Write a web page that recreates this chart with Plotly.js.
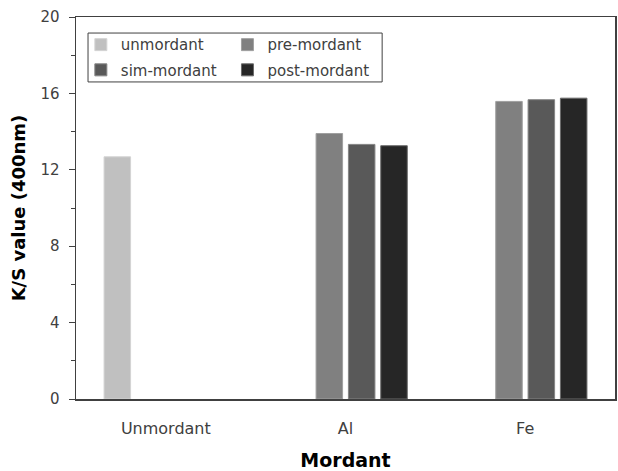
<!DOCTYPE html>
<html>
<head>
<meta charset="utf-8">
<script src="https://cdn.plot.ly/plotly-3.0.1.min.js"></script>
<style>html,body{margin:0;padding:0;background:#fff}#chart{width:618px;height:471px}</style>
</head>
<body>
<div id="chart"></div>
<script>
var categories = ['Unmordant', 'Al', 'Fe'];
var seriesNames = ['unmordant', 'pre-mordant', 'sim-mordant', 'post-mordant'];
var unmordantValues = [12.68, null, null];
var preMordantValues = [null, 13.9, 15.58];
var simMordantValues = [null, 13.33, 15.67];
var postMordantValues = [null, 13.26, 15.75];
var yTicks = [0, 4, 8, 12, 16, 20];

var colors = ['#c0c0c0', '#808080', '#595959', '#262626'];
var edges = ['#d4d4d4', '#a0a0a0', '#858585', '#6a6a6a'];
var allValues = [unmordantValues, preMordantValues, simMordantValues, postMordantValues];
var legendIds = ['legend', 'legend2', 'legend3', 'legend4'];

var traces = allValues.map(function (vals, i) {
  return {
    type: 'bar',
    name: seriesNames[i],
    x: categories,
    y: vals,
    marker: {color: colors[i], line: {color: edges[i], width: 1}},
    legend: legendIds[i],
    showlegend: true,
    hoverinfo: 'skip'
  };
});

var legendFont = {family: 'DejaVu Sans', size: 15, color: '#404040'};
function leg(x, y) {
  return {visible: true, x: x, y: y, xanchor: 'left', yanchor: 'middle', font: legendFont,
          bgcolor: 'rgba(0,0,0,0)', borderwidth: 0, itemwidth: 30};
}

var layout = {
  width: 618, height: 471,
  margin: {l: 76, r: 3, t: 17, b: 72},
  paper_bgcolor: '#fff', plot_bgcolor: '#fff',
  showlegend: true,
  barmode: 'group', bargap: 0.28, bargroupgap: 0.18,
  font: {family: 'DejaVu Sans', color: '#404040'},
  legend: leg(0.009, 0.927),
  legend2: leg(0.281, 0.927),
  legend3: leg(0.009, 0.861),
  legend4: leg(0.281, 0.861),
  xaxis: {
    type: 'category',
    showline: true, mirror: true, linecolor: '#404040', linewidth: 1.5,
    ticks: 'outside', ticklen: 14, tickcolor: 'rgba(0,0,0,0)',
    tickfont: {family: 'DejaVu Sans', size: 16, color: '#404040'},
    title: {text: 'Mordant', font: {family: 'DejaVu Sans', size: 19, color: '#000', weight: 'bold'}, standoff: 18},
    showgrid: false, zeroline: false
  },
  yaxis: {
    range: [0, 20], tickvals: yTicks, ticktext: yTicks.map(String),
    showline: true, mirror: true, linecolor: '#404040', linewidth: 1.5,
    ticks: 'outside', ticklen: 6, tickcolor: '#404040', tickwidth: 1,
    ticklabelstandoff: 6,
    minor: {dtick: 2, ticks: 'outside', ticklen: 4, tickcolor: '#404040', showgrid: false},
    tickfont: {family: 'DejaVu Sans', size: 15, color: '#404040'},
    title: {text: 'K/S value (400nm)', font: {family: 'DejaVu Sans', size: 18, color: '#000', weight: 'bold'}, standoff: 10},
    showgrid: false, zeroline: false
  },
  shapes: [{
    type: 'rect', xref: 'paper', yref: 'paper',
    x0: 0.0223, x1: 0.568, y0: 0.830, y1: 0.958,
    line: {color: '#404040', width: 1}, fillcolor: 'rgba(0,0,0,0)'
  }]
};

Plotly.newPlot('chart', traces, layout, {displayModeBar: false, staticPlot: true});
</script>
</body>
</html>
